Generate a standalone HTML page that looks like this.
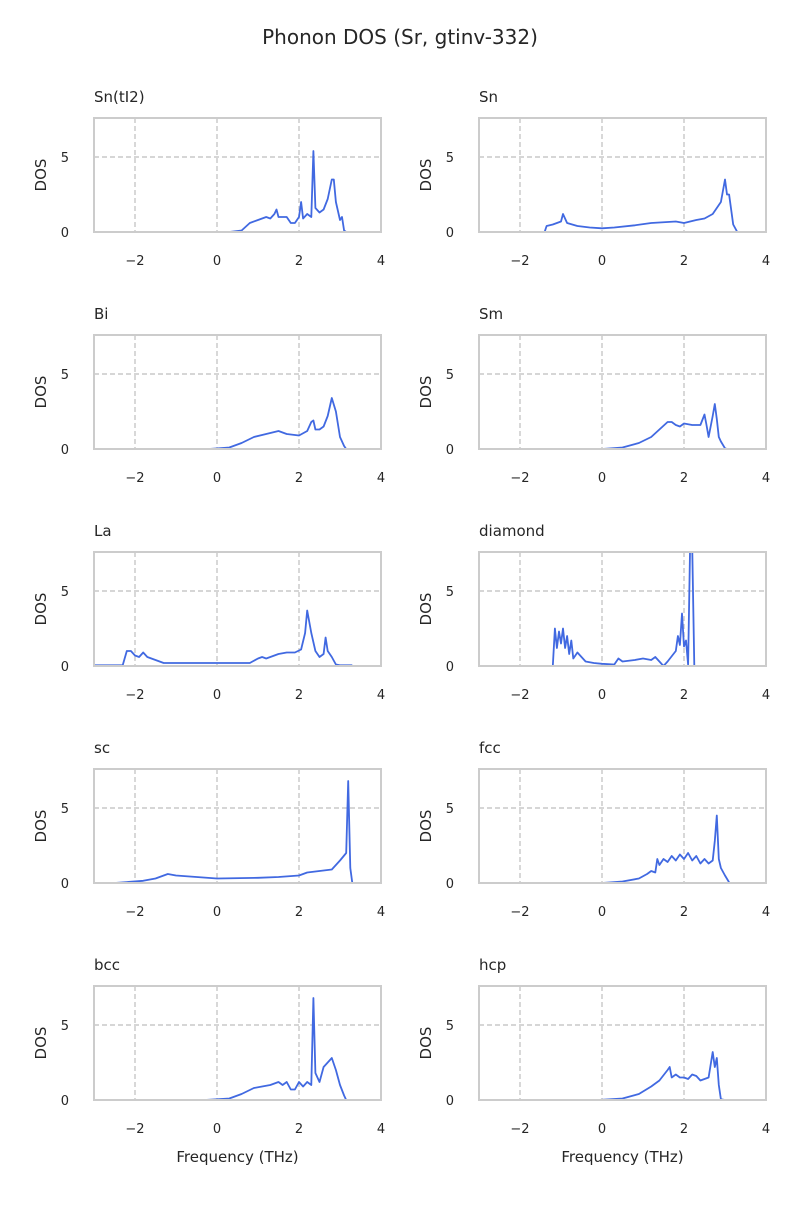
<!DOCTYPE html>
<html><head><meta charset="utf-8"><style>
body{margin:0;background:#fff;font-family:"Liberation Sans","DejaVu Sans",sans-serif}
</style></head><body>
<svg id="fig" width="800" height="1200" xmlns="http://www.w3.org/2000/svg" font-family="'DejaVu Sans','Liberation Sans',sans-serif">
<text x="400" y="44" text-anchor="middle" font-size="20" fill="#262626">Phonon DOS (Sr, gtinv-332)</text>
</svg>
<script>
const titles=["Sn(tI2)","Sn","Bi","Sm","La","diamond","sc","fcc","bcc","hcp"];
const xTicks=[-2,0,2,4];
const yTicks=[0,5];
const fSnTI2=[0.3,0.6,0.8,1.0,1.2,1.3,1.4,1.45,1.5,1.7,1.8,1.9,2.0,2.05,2.1,2.2,2.3,2.35,2.4,2.5,2.6,2.7,2.8,2.85,2.9,3.0,3.05,3.1,3.15];
const dSnTI2=[0,0.1,0.6,0.8,1.0,0.9,1.2,1.5,1.0,1.0,0.6,0.6,1.0,2.0,0.9,1.2,1.0,5.4,1.6,1.3,1.5,2.2,3.5,3.5,2.0,0.8,1.0,0.1,0];
const fSn=[-1.4,-1.35,-1.2,-1.0,-0.95,-0.85,-0.6,-0.3,0,0.3,0.8,1.2,1.8,2.0,2.3,2.5,2.7,2.9,3.0,3.05,3.1,3.2,3.3];
const dSn=[0,0.4,0.5,0.7,1.2,0.6,0.4,0.3,0.25,0.3,0.45,0.6,0.7,0.6,0.8,0.9,1.2,2.0,3.5,2.5,2.5,0.5,0];
const fBi=[-0.2,0.3,0.6,0.9,1.2,1.5,1.7,2.0,2.2,2.3,2.35,2.4,2.5,2.6,2.7,2.8,2.9,3.0,3.1,3.15];
const dBi=[0,0.1,0.4,0.8,1.0,1.2,1.0,0.9,1.2,1.8,1.9,1.3,1.3,1.5,2.2,3.4,2.5,0.8,0.2,0];
const fSm=[0,0.5,0.9,1.2,1.4,1.6,1.7,1.8,1.9,2.0,2.2,2.4,2.5,2.55,2.6,2.7,2.75,2.8,2.85,2.9,3.0,3.05];
const dSm=[0,0.1,0.4,0.8,1.3,1.8,1.8,1.6,1.5,1.7,1.6,1.6,2.3,1.6,0.8,2.2,3.0,2.0,0.8,0.5,0.05,0];
const fLa=[-3,-2.3,-2.2,-2.1,-2.0,-1.9,-1.8,-1.7,-1.5,-1.3,0.8,1.0,1.1,1.2,1.5,1.7,1.9,2.05,2.15,2.2,2.3,2.4,2.5,2.6,2.65,2.7,2.8,2.9,3.0,3.3];
const dLa=[0.05,0.05,1.0,1.0,0.7,0.6,0.9,0.6,0.4,0.2,0.2,0.5,0.6,0.5,0.8,0.9,0.9,1.1,2.2,3.7,2.2,1.0,0.6,0.8,1.9,1.0,0.6,0.1,0.05,0.05];
const fDia=[-1.5,-1.2,-1.15,-1.1,-1.05,-1.0,-0.95,-0.9,-0.85,-0.8,-0.75,-0.7,-0.6,-0.4,-0.2,0,0.3,0.4,0.5,0.8,1.0,1.2,1.3,1.4,1.5,1.6,1.8,1.85,1.9,1.95,2.0,2.05,2.1,2.15,2.2,2.25,2.6];
const dDia=[0,0,2.5,1.2,2.3,1.5,2.5,1.2,2.0,0.8,1.7,0.5,0.9,0.3,0.2,0.15,0.1,0.5,0.3,0.4,0.5,0.4,0.6,0.3,0,0.3,1.0,2.0,1.4,3.5,1.3,1.7,0.1,8,8,0,0];
const fSc=[-2.5,-1.8,-1.5,-1.2,-1.0,-0.5,0,1.0,1.5,2.0,2.2,2.5,2.8,3.0,3.15,3.2,3.25,3.3];
const dSc=[0,0.15,0.3,0.6,0.5,0.4,0.3,0.35,0.4,0.5,0.7,0.8,0.9,1.5,2.0,6.8,1.0,0];
const fFcc=[0,0.5,0.9,1.1,1.2,1.3,1.35,1.4,1.5,1.6,1.7,1.8,1.9,2.0,2.1,2.2,2.3,2.4,2.5,2.6,2.7,2.75,2.8,2.85,2.9,3.0,3.1];
const dFcc=[0,0.1,0.3,0.6,0.8,0.7,1.6,1.2,1.6,1.4,1.8,1.5,1.9,1.6,2.0,1.5,1.8,1.3,1.6,1.3,1.5,2.8,4.5,1.6,1.0,0.5,0.05];
const fBcc=[-0.3,0.3,0.6,0.9,1.1,1.3,1.5,1.6,1.7,1.8,1.9,2.0,2.1,2.2,2.3,2.35,2.4,2.5,2.6,2.7,2.8,2.9,3.0,3.1,3.15];
const dBcc=[0,0.1,0.4,0.8,0.9,1.0,1.2,1.0,1.2,0.7,0.7,1.2,0.9,1.2,1.0,6.8,1.8,1.2,2.2,2.5,2.8,2.0,1.0,0.3,0];
const fHcp=[-0.1,0.5,0.9,1.2,1.4,1.6,1.65,1.7,1.8,1.9,2.0,2.1,2.2,2.3,2.4,2.5,2.6,2.7,2.75,2.8,2.85,2.9,3.0];
const dHcp=[0,0.1,0.4,0.9,1.3,2.0,2.2,1.5,1.7,1.5,1.5,1.4,1.7,1.6,1.3,1.4,1.5,3.2,2.2,2.8,1.0,0.05,0];
const freqs=[fSnTI2,fSn,fBi,fSm,fLa,fDia,fSc,fFcc,fBcc,fHcp];
const dos=[dSnTI2,dSn,dBi,dSm,dLa,dDia,dSc,dFcc,dBcc,dHcp];

const NS="http://www.w3.org/2000/svg";
const svg=document.getElementById('fig');
function mk(tag,attrs,parent){const e=document.createElementNS(NS,tag);for(const k in attrs)e.setAttribute(k,attrs[k]);(parent||svg).appendChild(e);return e;}
const xmin=-3,xmax=4,ymin=0,ymax=7.6,W=287,H=114;
const defs=mk('defs',{});
titles.forEach((t,i)=>{
  const col=i%2,row=Math.floor(i/2);
  const L=col?479:94,T=118+row*217;
  const sx=v=>L+(v-xmin)/(xmax-xmin)*W;
  const sy=v=>T+H-(v-ymin)/(ymax-ymin)*H;
  const g=mk('g',{});
  
  
  const cp=mk('clipPath',{id:'cp'+i},defs);mk('rect',{x:L,y:T,width:W,height:H},cp);
  xTicks.forEach(v=>{
    const l=mk('line',{x1:sx(v),x2:sx(v),y1:T,y2:T+H,stroke:'#c8c8c8','stroke-width':1.4,'stroke-dasharray':'5,3'},g);
    
    
    const tx=mk('text',{x:sx(v),y:T+H+33,'text-anchor':'middle','font-size':13,fill:'#262626'},g);
    tx.textContent=v<0?'\u2212'+(-v):String(v);
    
    
  });
  yTicks.forEach(v=>{
    if(v>0){const l=mk('line',{x1:L,x2:L+W,y1:sy(v),y2:sy(v),stroke:'#c8c8c8','stroke-width':1.4,'stroke-dasharray':'5,3'},g);
    
    }
    const tx=mk('text',{x:L-25,y:sy(v)+5,'text-anchor':'end','font-size':13,fill:'#262626'},g);
    tx.textContent=String(v);
    
    
  });
  const fs=freqs[i],ds=dos[i];
  const tail=mk('line',{x1:sx(fs[0]),x2:sx(fs[fs.length-1]+0.35),y1:sy(0),y2:sy(0),stroke:'#4169e1','stroke-opacity':0.3,'stroke-width':1.6},g);
  
  
  const pts=fs.map((f,k)=>sx(f).toFixed(1)+','+sy(ds[k]).toFixed(1)).join(' ');
  const pl=mk('polyline',{points:pts,fill:'none',stroke:'#4169e1','stroke-width':1.8,'stroke-linejoin':'round','clip-path':'url(#cp'+i+')'},g);
  
  
  const fr=mk('rect',{x:L,y:T,width:W,height:H,fill:'none',stroke:'#cccccc','stroke-width':2},g);
  
  
  const tt=mk('text',{x:L,y:T-16,'font-size':15,fill:'#262626'},g);
  tt.textContent=t;
  
  
  const yl=mk('text',{x:0,y:0,transform:`translate(${L-48},${T+H/2}) rotate(-90)`,'text-anchor':'middle','font-size':15,fill:'#262626'},g);
  yl.textContent='DOS';
  
  
  if(row===4){
    const xl=mk('text',{x:L+W/2,y:T+H+62,'text-anchor':'middle','font-size':15,fill:'#262626'},g);
    xl.textContent='Frequency (THz)';
    
    
  }
});
</script>
</body></html>
